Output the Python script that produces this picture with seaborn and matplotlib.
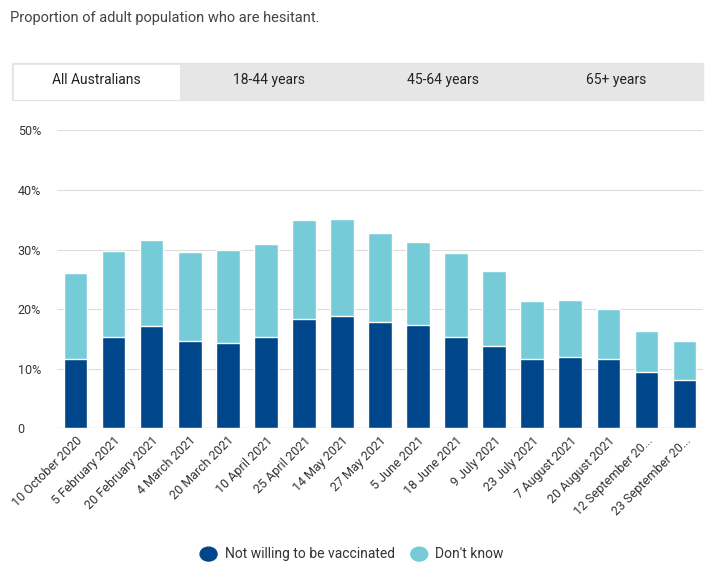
import matplotlib
matplotlib.use("Agg")
import matplotlib.pyplot as plt
import seaborn as sns
import pandas as pd
from matplotlib.patches import Rectangle

dates = ["10 October 2020","5 February 2021","20 February 2021","4 March 2021","20 March 2021",
         "10 April 2021","25 April 2021","14 May 2021","27 May 2021","5 June 2021","18 June 2021",
         "9 July 2021","23 July 2021","7 August 2021","20 August 2021","12 September 20...","23 September 20..."]
not_willing = [11.7,15.4,17.1,14.6,14.3,15.3,18.3,18.8,17.8,17.3,15.4,13.9,11.7,11.9,11.6,9.4,8.2]
total = [26.0,29.8,31.6,29.6,29.9,30.9,35.0,35.2,32.7,31.3,29.5,26.4,21.3,21.6,20.0,16.3,14.7]
tabs = ["All Australians","18-44 years","45-64 years","65+ years"]

sns.set_theme(style="white")
plt.rcParams['font.family'] = ['Roboto','DejaVu Sans']
fig = plt.figure(figsize=(7.07,5.79), dpi=100)
ax = fig.add_axes([0.08,0.26,0.915,0.515])
df = pd.DataFrame({"date":dates,"total":total,"nw":not_willing})
dark, light = "#00468b", "#75ccd8"
sns.barplot(data=df, x="date", y="total", color=light, width=0.62, ax=ax, saturation=1)
sns.barplot(data=df, x="date", y="nw", color=dark, width=0.62, ax=ax, saturation=1)
ax.set_ylim(0,50)
ax.set_yticks([0,10,20,30,40,50])
ax.set_yticklabels(["0","10%","20%","30%","40%","50%"], fontsize=9, color="#333333")
for t in ax.get_yticklabels():
    t.set_horizontalalignment("left")
ax.tick_params(axis="y", pad=28, length=0)
ax.yaxis.grid(True, color="#dddddd", lw=0.8)
ax.set_axisbelow(True)
for s in ax.spines.values(): s.set_visible(False)
ax.axhline(0, color="#999999", lw=0.8)
ax.set_xlabel(""); ax.set_ylabel("")
ax.set_xticks(range(len(dates)))
ax.set_xticklabels(dates, rotation=45, ha="right", rotation_mode="anchor", fontsize=9, color="#333333")
ax.tick_params(axis="x", length=0, pad=4)

fig.text(0.014,0.962,"Proportion of adult population who are hesitant.", fontsize=10.5, color="#444444")
# tabs
fig.add_artist(Rectangle((0.017,0.828),0.977,0.063, transform=fig.transFigure, color="#e6e6e6", zorder=0))
fig.add_artist(Rectangle((0.02,0.828),0.235,0.06, transform=fig.transFigure, facecolor="white", edgecolor="none", zorder=1))
xs = [0.137,0.381,0.627,0.871]
for x,t in zip(xs,tabs):
    fig.text(x,0.861,t, ha="center", va="center", fontsize=10, color="#222222", zorder=2)

# legend
fig.add_artist(plt.Circle((0.295,0.043),0.012, transform=fig.transFigure, color=dark))
fig.text(0.318,0.043,"Not willing to be vaccinated", va="center", fontsize=10, color="#333333")
fig.add_artist(plt.Circle((0.593,0.043),0.012, transform=fig.transFigure, color=light))
fig.text(0.615,0.043,"Don't know", va="center", fontsize=10, color="#333333")
fig.savefig("out.png", dpi=100)
